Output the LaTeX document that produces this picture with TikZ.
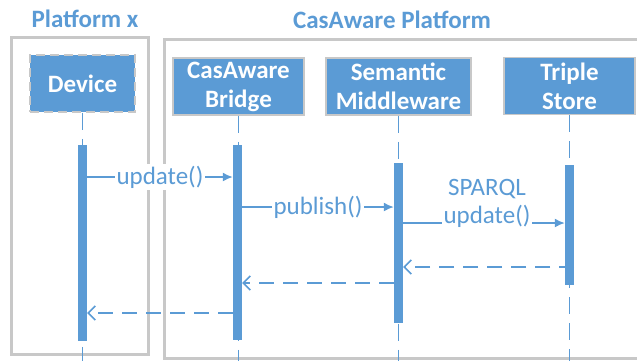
\documentclass[tikz,border=0pt]{standalone}
\usepackage{fontspec}
\setmainfont{Carlito}
\usetikzlibrary{arrows.meta}
\definecolor{seqblue}{HTML}{5B9BD5}
\definecolor{framegray}{HTML}{C8C8C8}

\begin{document}
\begin{tikzpicture}[x=1pt,y=-1pt]
    \tikzset{actor/.style = {shape=rectangle,fill=seqblue,draw=framegray,line width=1.5pt,
        text=white,font=\fontsize{25}{29}\selectfont\bfseries,align=center,
        minimum height=57pt,inner sep=0pt}}
    \tikzset{bar/.style = {shape=rectangle,fill=seqblue,minimum width=9pt,inner sep=0pt}}
    \tikzset{life/.style = {seqblue,line width=1.8pt,dash pattern=on 17pt off 9pt}}
    \tikzset{msg/.style = {seqblue,line width=1.6pt,-{Latex[length=10pt,width=9pt]}}}
    \tikzset{ret/.style = {seqblue,line width=1.6pt,dash pattern=on 15pt off 9pt,
        -{Straight Barb[length=7pt,width=14pt]}}}
    \tikzset{lbl/.style = {fill=white,inner sep=1.5pt,text=seqblue,font=\fontsize{25}{28}\selectfont}}
    \tikzset{title/.style = {text=seqblue,font=\fontsize{25}{29}\selectfont\bfseries}}
    \useasboundingbox (0,0) rectangle (637,360);
    % platforms
    \draw[framegray,line width=3pt] (11.5,37.5) rectangle (148,354);
    \draw[framegray,line width=3pt] (164,39.5) rectangle (660,358);
    \node[title] (px) at (85,19) {Platform x};
    \node[title] (pc) at (392,20) {CasAware Platform};
    % actors
    \node[actor,dash pattern=on 9pt off 5pt,minimum width=105pt] (dev) at (82.5,83.5) {Device};
    \node[actor,minimum width=131pt] (br) at (238.5,86.5) {CasAware\\Bridge};
    \node[actor,minimum width=145pt] (mw) at (398.5,86.5) {Semantic\\Middleware};
    \node[actor,minimum width=131pt] (ts) at (569.5,86) {Triple\\Store};
    % activation bars
    \node[bar,minimum height=196pt] (devbar) at (82.5,243) {};
    \node[bar,minimum height=195pt] (brbar) at (237.5,242.5) {};
    \node[bar,minimum height=160pt] (mwbar) at (398.5,243) {};
    \node[bar,minimum height=120pt] (tsbar) at (569.5,225) {};
    % lifelines
    \foreach \a in {dev,br,mw,ts}
        \draw[life] (\a.south) -- (\a.south |- 0,365);
    % messages
    \coordinate (m1) at (0,177);
    \coordinate (m2) at (0,207);
    \coordinate (m3) at (0,223);
    \coordinate (r1) at (0,267);
    \coordinate (r2) at (0,283);
    \coordinate (r3) at (0,313);
    \draw[msg] (devbar.east |- m1) -- node[lbl] {update()} (brbar.west |- m1);
    \draw[msg] (brbar.east |- m2) -- node[lbl] {publish()} (mwbar.west |- m2);
    \draw[msg] (mwbar.east |- m3) -- node[lbl,align=center,anchor=base,xshift=3pt] {SPARQL\\update()} (tsbar.west |- m3);
    %returns
    \draw[ret] (tsbar.east |- r1) -- (mwbar.east |- r1);
    \draw[ret] (mwbar.west |- r2) -- (brbar.east |- r2);
    \draw[ret] (brbar.west |- r3) -- (devbar.east |- r3);
\end{tikzpicture}
\end{document}
